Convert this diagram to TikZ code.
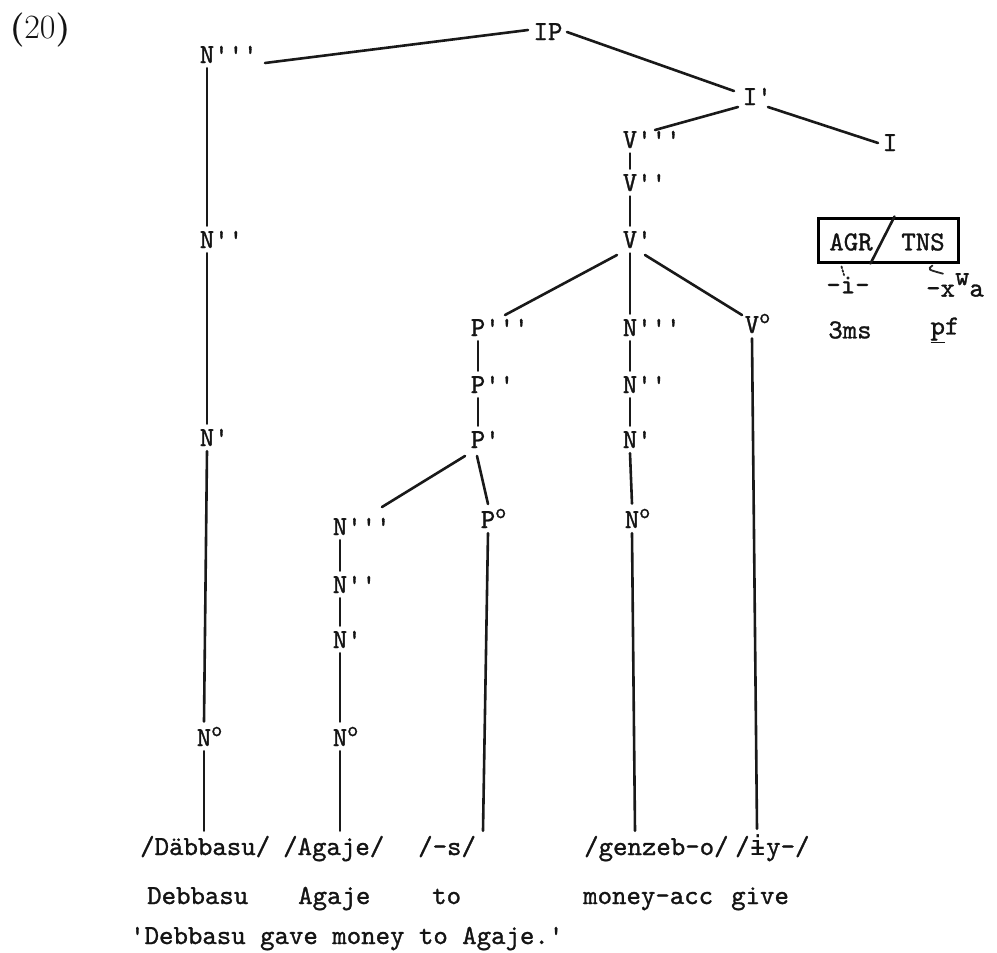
\documentclass[tikz,border=0pt]{standalone}
\usepackage{fontspec}
\usetikzlibrary{calc}
\newfontfamily\typefont{lmmono10-regular}[Extension=.otf, FakeBold=1.1]
\newfontfamily\ipamono{DejaVu Sans Mono}
\newcommand\upo{\raisebox{0.36em}{\fontsize{21}{21}\selectfont o}}
\begin{document}
\begin{tikzpicture}[x=1pt,y=-1pt,
  every node/.style={font=\fontsize{27.5}{32}\selectfont\typefont, text=black!92},
  cat/.style={anchor=base, inner sep=5pt},
  word/.style={anchor=base west, inner xsep=0pt, inner ysep=5pt},
  br/.style={line width=2.6pt, draw=black!90, line cap=round},
  fine/.style={line width=1.8pt, draw=black!85, line cap=round},
]
\fill[white] (0,0) rectangle (997,953);
\useasboundingbox (0,0) rectangle (997,953);

% example number
\node[anchor=center, font=\fontsize{34}{38}\selectfont\rmfamily] (num) at (40,30) {\textbf{(}20\textbf{)}};

% categories (each node is centred on its head letter)
\node[cat] (IP)  at (548,40)  {IP};
\node[cat] (N3L) at (207,63)  {N\rlap{'''}};
\node[cat] (N2L) at (207,248) {N\rlap{''}};
\node[cat] (N1L) at (207,446) {N\rlap{'}};
\node[cat] (N0L) at (204,746) {N\rlap{\upo}};
\node[cat] (I1)  at (750,105) {I\rlap{'}};
\node[cat] (I0)  at (890,151) {I};
\node[cat] (V3)  at (630,148) {V\rlap{'''}};
\node[cat] (V2)  at (630,191) {V\rlap{''}};
\node[cat] (V1)  at (630,248) {V\rlap{'}};
\node[cat] (P3)  at (478,336) {P\rlap{'''}};
\node[cat] (P2)  at (478,393) {P\rlap{''}};
\node[cat] (P1)  at (478,448) {P\rlap{'}};
\node[cat] (P0)  at (488,528) {P\rlap{\upo}};
\node[cat] (N3M) at (630,336) {N\rlap{'''}};
\node[cat] (N2M) at (630,393) {N\rlap{''}};
\node[cat] (N1M) at (630,448) {N\rlap{'}};
\node[cat] (N0M) at (632,528) {N\rlap{\upo}};
\node[cat] (V0)  at (752,333) {V\rlap{\upo}};
\node[cat] (N3S) at (340,535) {N\rlap{'''}};
\node[cat] (N2S) at (340,593) {N\rlap{''}};
\node[cat] (N1S) at (340,648) {N\rlap{'}};
\node[cat] (N0S) at (340,746) {N\rlap{\upo}};

% inflection box
\node[draw, line width=3pt, minimum width=140pt, minimum height=44pt, inner sep=0pt] (box) at (888,240) {};
\node (agr) at (851,242) {AGR};
\node (tns) at (923,242) {TNS};
\draw[br] ($(box.south west)+(54,0)$) -- ($(box.north west)+(78,0)$);
\node (agrx) at (848,285) {-i-};
\node (tnsx) at (955,285) {-x\raisebox{0.42em}{w}a};
\node (agrg) at (850,330) {3ms};
\node (tnsg) at (945,330) {\underline{p}f};
\draw[fine, dotted] ($(box.south west)+(25,3)$) -- ($(agrx.north)+(-4,2)$);
\draw[fine] ($(box.south east)+(-27,2)$) .. controls ($(box.south east)+(-32,6)$) .. ($(tnsx.north)+(-12,4)$);

% words, glosses, translation
\node[word] (w1) at (140,855) {/Däbbasu/};
\node[word] (w2) at (283,855) {/Agaje/};
\node[word] (w3) at (418,855) {/-s/};
\node[word] (w4) at (584,855) {/genzeb-o/};
\node[word] (w5) at (735,855) {/{\ipamono ɨ}y-/};
\node[word] (g1) at (147,904) {Debbasu};
\node[word] (g2) at (298,904) {Agaje};
\node[word] (g3) at (432,904) {to};
\node[word] (g4) at (583,904) {money-acc};
\node[word] (g5) at (731,904) {give};
\node[word] (tr) at (130,944) {'Debbasu gave money to Agaje.'};

% branches
\draw[br] ($(IP.base)+(-20,-10)$) -- ($(N3L.base)+(58,0)$);
\draw[br] ($(IP.base)+(19,-8)$) -- ($(I1.base)+(-16,-14)$);
\draw[br] ($(I1.base)+(-12,2)$) -- ($(V3.base)+(25,-18)$);
\draw[br] ($(I1.base)+(18,2)$) -- ($(I0.base)+(-12,-8)$);
\draw[br] (V3.south) -- (V2.north);
\draw[br] (V2.south) -- (V1.north);
\draw[br] ($(V1.base)+(-13,7)$) -- ($(P3.base)+(27,-21)$);
\draw[br] (V1.south) -- (N3M.north);
\draw[br] ($(V1.base)+(15,7)$) -- ($(V0.base)+(-10,-18)$);
\draw[br] (P3.south) -- (P2.north);
\draw[br] (P2.south) -- (P1.north);
\draw[br] ($(P1.base)+(-13,8)$) -- ($(N3S.base)+(42,-28)$);
\draw[br] ($(P1.base)+(-1,8)$) -- ($(P0.base)+(0,-24)$);
\draw[br] (N3M.south) -- (N2M.north);
\draw[br] (N2M.south) -- (N1M.north);
\draw[br] (N1M.south) -- (N0M.north);
\draw[br] (N3L.south) -- (N2L.north);
\draw[br] (N2L.south) -- (N1L.north);
\draw[br] (N1L.south) -- (N0L.north);
\draw[br] (N3S.south) -- (N2S.north);
\draw[br] (N2S.south) -- (N1S.north);
\draw[br] (N1S.south) -- (N0S.north);

% lexical attachments
\draw[br] (N0L.south) -- (N0L.south |- w1.north);
\draw[br] (N0S.south) -- (N0S.south |- w2.north);
\draw[br] (P0.south) -- ($(P0.south |- w3.north)+(-5,0)$);
\draw[br] (N0M.south) -- ($(N0M.south |- w4.north)+(3,0)$);
\draw[br] (V0.south) -- ($(V0.south |- w5.north)+(5,0)$);
\end{tikzpicture}
\end{document}
